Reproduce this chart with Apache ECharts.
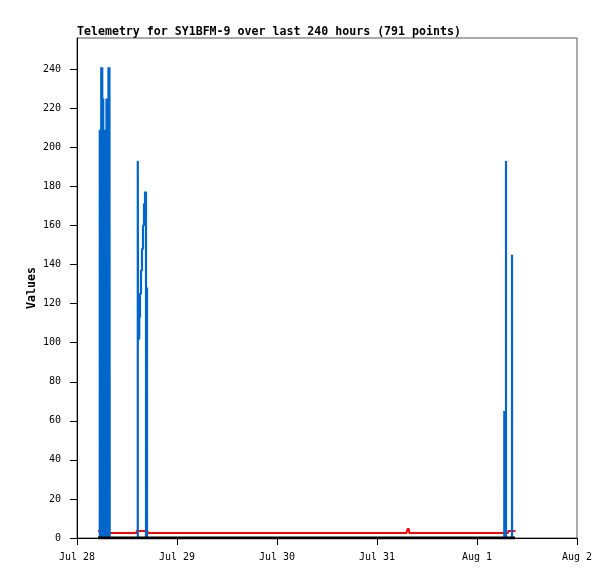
<!DOCTYPE html>
<html><head><meta charset="utf-8">
<script src="https://cdn.jsdelivr.net/npm/echarts@6/dist/echarts.min.js"></script>
<style>html,body{margin:0;padding:0;background:#fff}#c{width:615px;height:579px}</style>
</head><body><div id="c"></div>
<script>
// Hours since Jul 28 00:00
const titleText = 'Telemetry for SY1BFM-9 over last 240 hours (791 points)';
const yAxisName = 'Values';
const xTickHours = [0, 24, 48, 72, 96, 120];
const xTickLabels = ['Jul 28', 'Jul 29', 'Jul 30', 'Jul 31', 'Aug 1', 'Aug 2'];
const yTicks = [0, 20, 40, 60, 80, 100, 120, 140, 160, 180, 200, 220, 240];

const blueHours = [5.04, 5.47, 5.52, 5.58, 5.64, 5.70, 5.76, 5.82, 5.88, 5.94, 6.00, 6.06, 6.12,
  6.18, 6.24, 6.30, 6.36, 6.41, 6.58, 6.70, 6.77, 6.83, 6.89, 6.95, 7.01, 7.07, 7.13, 7.19,
  7.25, 7.31, 7.37, 7.43, 7.49, 7.55, 7.61, 7.67, 7.73, 7.79, 7.85, 7.91,
  14.59, 14.64, 14.94, 15.12, 15.36, 15.60, 15.84, 16.08, 16.32, 16.56, 16.63, 16.80, 16.87,
  102.55, 102.58, 102.62, 102.96, 102.96, 103.01, 104.40, 104.42, 104.47, 105.12];
const blueValues = [0, 0, 209, 0, 209, 0, 209, 0, 241, 0, 241, 0, 241,
  0, 225, 0, 225, 67, 13, 0, 209, 0, 209, 0, 209, 0, 225, 0,
  225, 0, 225, 0, 225, 0, 241, 0, 241, 0, 241, 0,
  0, 193, 102, 113, 125, 137, 148, 160, 171, 177, 0, 128, 0,
  0, 65, 0, 0, 193, 0, 0, 145, 0, 0];

const redHours = [5.04, 6.48, 6.55, 14.28, 14.33, 16.92, 16.97, 79.08, 79.20, 79.32, 79.68, 79.73,
  103.44, 103.51, 105.24];
const redValues = [3.6, 3.6, 2.6, 2.6, 3.6, 3.6, 2.6, 2.6, 3.6, 4.6, 4.6, 2.6,
  2.6, 3.6, 3.6];

const blackHours = [5.04, 105.12];
const blackValues = [0, 0];

const zip = (a, b) => a.map((v, i) => [v, b[i]]);
const mono = '"DejaVu Sans Mono", "Liberation Mono", monospace';

const chart = echarts.init(document.getElementById('c'), null, {renderer: 'canvas'});
chart.setOption({
  animation: false,
  backgroundColor: '#fff',
  title: {
    text: titleText, left: 77, top: 26, padding: 0,
    textStyle: {fontFamily: mono, fontSize: 11.6, fontWeight: 'bold', color: '#000'}
  },
  grid: {left: 77, top: 38, width: 500, height: 500, show: true, borderColor: '#555', borderWidth: 1},
  xAxis: {
    type: 'value', min: 0, max: 120,
    axisLine: {show: true, onZero: false, lineStyle: {color: '#000', width: 1}},
    axisTick: {show: true, inside: false, length: 7, customValues: xTickHours, lineStyle: {color: '#000'}},
    axisLabel: {customValues: xTickHours, margin: 14, fontFamily: mono, fontSize: 10, color: '#000',
      formatter: v => xTickLabels[xTickHours.indexOf(v)] || ''},
    splitLine: {show: false}
  },
  yAxis: {
    type: 'value', min: 0, max: 256,
    name: yAxisName, nameLocation: 'middle', nameGap: 45, nameRotate: 90, nameMoveOverlap: false,
    nameTextStyle: {fontFamily: mono, fontSize: 11.6, fontWeight: 'bold', color: '#000',
      align: 'center', verticalAlign: 'middle'},
    axisLine: {show: true, lineStyle: {color: '#000', width: 1}},
    axisTick: {show: true, inside: false, length: 7, customValues: yTicks, lineStyle: {color: '#000'}},
    axisLabel: {customValues: yTicks, margin: 16, fontFamily: mono, fontSize: 10, color: '#000'},
    splitLine: {show: false}
  },
  series: [
    {type: 'line', data: zip(redHours, redValues), symbol: 'none', smooth: false, lineStyle: {color: '#ff0000', width: 2}, z: 2},
    {type: 'line', data: zip(blueHours, blueValues), symbol: 'none', smooth: false, step: 'start', lineStyle: {color: '#0066cc', width: 2.2}, z: 3},
    {type: 'line', data: zip(blackHours, blackValues), symbol: 'none', smooth: false, lineStyle: {color: '#000', width: 3}, z: 4}
  ]
});

// keep the small (sub-2px) steps of the lines instead of letting the renderer merge them
const zr = chart.getZr();
zr.storage.getDisplayList(true).forEach(function (el) {
  if (el.type === 'ec-polyline') {
    el.segmentIgnoreThreshold = 0.01;
    if (el.dirtyShape) el.dirtyShape();
    if (el.dirty) el.dirty();
  }
});
zr.refreshImmediately();
</script></body></html>
